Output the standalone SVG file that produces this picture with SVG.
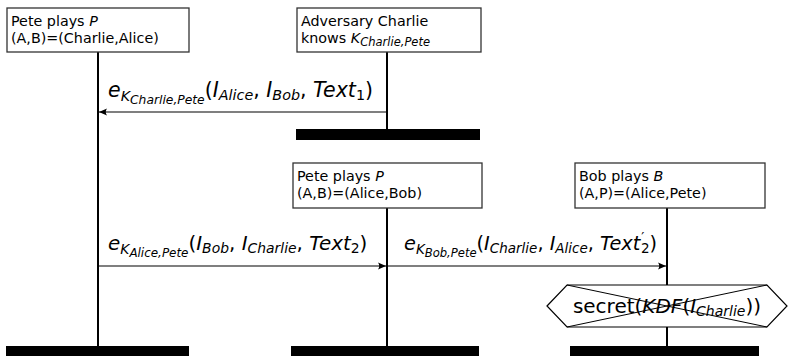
<svg xmlns="http://www.w3.org/2000/svg" width="791" height="356" viewBox="0 0 791 356">
  <style>
    .box { fill: #fff; stroke: #333; stroke-width: 1.3; }
    .life { stroke: #000; stroke-width: 2; fill: none; }
    .bar { fill: #000; }
    .msg { stroke: #000; stroke-width: 1.2; fill: none; marker-end: url(#head); }
    .lbl { font-family: "DejaVu Sans", sans-serif; font-size: 14.3px; fill: #000; }
    .m { font-family: "DejaVu Sans", sans-serif; font-size: 20px; fill: #000; }
    .i { font-style: italic; }
    .s { font-size: 0.7em; }
    .ss { font-size: 0.6em; }
    .hex { fill: #fff; stroke: #000; stroke-width: 1.2; }
    .x { stroke: #000; stroke-width: 1; }
  </style>
  <defs>
    <marker id="head" markerWidth="10" markerHeight="8" refX="8" refY="4" orient="auto" markerUnits="userSpaceOnUse">
      <path d="M0,0.5 L8,4 L0,7.5 Q2.5,4 0,0.5 Z" fill="#000"/>
    </marker>
  </defs>

  <!-- lifelines -->
  <g id="lifelines">
    <line class="life" x1="98" y1="52" x2="98" y2="346"/>
    <line class="life" x1="387" y1="52" x2="387" y2="129"/>
    <line class="life" x1="387" y1="208" x2="387" y2="346"/>
    <line class="life" x1="667" y1="208" x2="667" y2="285"/>
    <line class="life" x1="667" y1="327" x2="667" y2="346"/>
  </g>

  <!-- Pete as P with (A,B)=(Charlie,Alice) -->
  <g id="pete1">
    <rect class="box" x="7" y="8" width="182" height="44"/>
    <text class="lbl" x="11" y="26">Pete plays <tspan class="i">P</tspan></text>
    <text class="lbl" x="11" y="43">(A,B)=(Charlie,Alice)</text>
    <rect class="bar" x="6" y="346" width="183" height="10"/>
  </g>

  <!-- adversary -->
  <g id="charlie">
    <rect class="box" x="297" y="8" width="184" height="44"/>
    <text class="lbl" x="301" y="26">Adversary Charlie</text>
    <text class="lbl" x="301" y="43">knows <tspan class="i">K</tspan><tspan class="i" style="font-size:11.5px" dy="3">Charlie,Pete</tspan></text>
    <rect class="bar" x="296" y="129" width="184" height="11"/>
  </g>

  <!-- Pete as P with (A,B)=(Alice,Bob) -->
  <g id="pete2">
    <rect class="box" x="293" y="163" width="189" height="45"/>
    <text class="lbl" x="297" y="181">Pete plays <tspan class="i">P</tspan></text>
    <text class="lbl" x="297" y="198">(A,B)=(Alice,Bob)</text>
    <rect class="bar" x="291" y="346" width="188" height="10"/>
  </g>

  <!-- Bob as B -->
  <g id="bob">
    <rect class="box" x="575" y="163" width="190" height="45"/>
    <text class="lbl" x="579" y="181">Bob plays <tspan class="i">B</tspan></text>
    <text class="lbl" x="579" y="198">(A,P)=(Alice,Pete)</text>
    <rect class="bar" x="570" y="346" width="189" height="10"/>
  </g>

  <!-- crossed-out secret -->
  <g id="secret">
    <polygon class="hex" points="547,306 567,285 767,285 787,306 767,327 567,327"/>
    <line class="x" x1="567" y1="285" x2="767" y2="327"/>
    <line class="x" x1="567" y1="327" x2="767" y2="285"/>
    <text class="m" x="667" y="313" text-anchor="middle">secret(<tspan class="i">KDF</tspan>(<tspan class="i">I</tspan><tspan class="i s" dy="3">Charlie</tspan><tspan dy="-3">))</tspan></text>
  </g>

  <!-- messages -->
  <g id="connectors">
    <line class="msg" x1="387" y1="112" x2="99" y2="112"/>
    <line class="msg" x1="98" y1="266" x2="386" y2="266"/>
    <line class="msg" x1="387" y1="266" x2="666" y2="266"/>
    <text class="m" x="108" y="97" style="font-size:20.5px"><tspan class="i">e</tspan><tspan class="i s" dy="4">K</tspan><tspan class="i ss" dy="2.5">Charlie,Pete</tspan><tspan dy="-6.5">(</tspan><tspan class="i">I</tspan><tspan class="i s" dy="3">Alice</tspan><tspan dy="-3">, </tspan><tspan class="i">I</tspan><tspan class="i s" dy="3">Bob</tspan><tspan dy="-3">, </tspan><tspan class="i">Text</tspan><tspan class="s" dy="3">1</tspan><tspan dy="-3">)</tspan></text>
    <text class="m" x="108" y="250" style="font-size:19.9px"><tspan class="i">e</tspan><tspan class="i s" dy="4">K</tspan><tspan class="i ss" dy="2.5">Alice,Pete</tspan><tspan dy="-6.5">(</tspan><tspan class="i">I</tspan><tspan class="i s" dy="3">Bob</tspan><tspan dy="-3">, </tspan><tspan class="i">I</tspan><tspan class="i s" dy="3">Charlie</tspan><tspan dy="-3">, </tspan><tspan class="i">Text</tspan><tspan class="s" dy="3">2</tspan><tspan dy="-3">)</tspan></text>
    <text class="m" x="404" y="250" style="font-size:19.3px"><tspan class="i">e</tspan><tspan class="i s" dy="4">K</tspan><tspan class="i ss" dy="2.5">Bob,Pete</tspan><tspan dy="-6.5">(</tspan><tspan class="i">I</tspan><tspan class="i s" dy="3">Charlie</tspan><tspan dy="-3">, </tspan><tspan class="i">I</tspan><tspan class="i s" dy="3">Alice</tspan><tspan dy="-3">, </tspan><tspan class="i">Text</tspan><tspan class="s" dx="1" dy="-8">′</tspan><tspan class="s" dx="-3.5" dy="11">2</tspan><tspan dy="-3">)</tspan></text>
  </g>
</svg>
